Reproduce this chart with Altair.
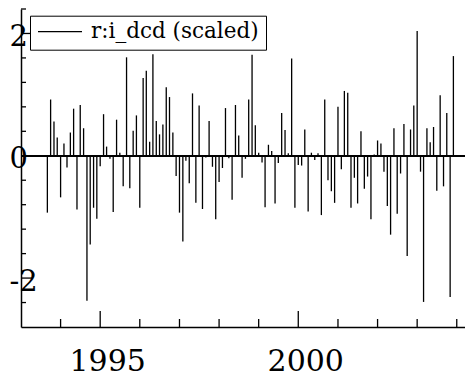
import altair as alt
import pandas as pd

# ---- data ----
start_month = "1993-09-01"
values = [
    -0.93, 0.92, 0.56, 0.30, -0.68, 0.20, -0.19, 0.38, 0.77, -0.88, 0.83, 0.45,
    -2.37, -1.45, -0.85, -1.03, -0.17, 0.68, 0.15, -0.05, -0.92, 0.59, 0.05, -0.50,
    1.61, -0.53, 0.41, 0.66, -0.85, 1.27, 1.39, 0.23, 1.66, 0.57, 0.35, 0.51,
    1.12, 0.96, 0.38, -0.33, -0.93, -1.40, -0.08, -0.45, 1.02, -0.77, 0.82, -0.87,
    -0.03, 0.57, -0.18, -1.04, -0.43, -0.20, 0.78, -0.04, -0.72, 0.83, 0.33, -0.36,
    -0.05, 0.92, 1.65, 0.50, 0.05, -0.11, -0.84, 0.18, 0.08, -0.78, -0.12, 0.70,
    0.42, 0.04, 1.59, -0.85, -0.15, -0.16, 0.43, -0.91, 0.05, -0.07, 0.04, -0.97,
    0.92, -0.40, -0.58, -0.77, 0.80, -0.22, 1.06, 1.03, -0.85, -0.36, -0.78, 0.40,
    -0.54, -0.34, -1.04, 0.02, 0.25, 0.20, -0.26, -0.82, -1.29, 0.45, -0.95, -0.29,
    0.52, -1.64, 0.43, 0.82, 2.04, -0.26, -2.39, 0.45, 0.22, 0.47, -0.57, 0.99,
    -0.50, 0.70, -2.31, 1.63,
]
series_name = "r:i_dcd (scaled)"
year_ticks = [1994, 1995, 1996, 1997, 1998, 1999, 2000, 2001, 2002, 2003, 2004]
major_years = [1995, 2000]
y_minor_ticks = [2.4, 1.6, 1.2, 0.8, 0.4, -0.4, -0.8, -1.2, -1.6, -2.4]
y_major_ticks = [2, -2]
y_label_values = [-2, 0, 2]
y_domain = [-2.8, 2.4]

dates = pd.date_range(start_month, periods=len(values), freq="MS")
df = pd.DataFrame({"date": dates, "value": values, "series": series_name})

xt = pd.DataFrame({
    "date": [pd.Timestamp(f"{y}-01-01") for y in year_ticks],
    "major": [y in major_years for y in year_ticks],
})
xt_minor = xt[~xt["major"]]
xt_major = xt[xt["major"]]
yt_minor = pd.DataFrame({"v": y_minor_ticks})
yt_major = pd.DataFrame({"v": y_major_ticks})

W, H = 444, 318
FONT = "DejaVu Serif"

xscale = alt.Scale(domain=[alt.DateTime(year=1993, month=1, date=1),
                           alt.DateTime(year=2004, month=3, date=17)])
yscale = alt.Scale(domain=y_domain, nice=False, zero=False)

ax_x = alt.Axis(
    values=[alt.DateTime(year=y, month=1, date=1) for y in major_years],
    format="%Y", title=None, grid=False, ticks=False, tickSize=0,
    labelFont=FONT, labelFontSize=30, labelColor="black",
    labelPadding=43, labelBaseline="alphabetic", labelOffset=7, labelFlush=False,
    domainColor="black", domainWidth=1.5,
)
ax_y = alt.Axis(
    values=y_label_values, labelExpr="'' + datum.value", title=None,
    grid=False, ticks=False, tickSize=0,
    labelFont=FONT, labelFontSize=29, labelColor="black",
    labelAlign="left", labelPadding=12, labelBaseline="alphabetic", labelOffset=12,
    labelFlush=False,
    domainColor="black", domainWidth=1.5,
)

zero_line = alt.Chart(df).mark_rule(color="black", strokeWidth=1.4).encode(
    y=alt.YDatum(0, scale=yscale, axis=ax_y),
)

spikes = alt.Chart(df).mark_rule(strokeWidth=1.3).encode(
    x=alt.X("date:T", scale=xscale, axis=ax_x),
    y=alt.Y("value:Q", scale=yscale, axis=ax_y),
    y2=alt.datum(0),
    color=alt.Color(
        "series:N",
        scale=alt.Scale(range=["black"]),
        legend=alt.Legend(
            title=None, orient="none", legendX=9, legendY=6.7,
            strokeColor="black", fillColor="white", padding=7,
            symbolType="stroke", symbolSize=1936, symbolStrokeWidth=1.3,
            symbolStrokeColor="black", clipHeight=18,
            labelFont=FONT, labelFontSize=21.5, labelColor="black", labelOffset=8,
            labelLimit=0,
        ),
    ),
)

xt_min_layer = alt.Chart(xt_minor).mark_rule(color="black", strokeWidth=1.3).encode(
    x=alt.X("date:T", scale=xscale, axis=ax_x),
    y=alt.value(H), y2=alt.value(H - 8),
)
xt_maj_layer = alt.Chart(xt_major).mark_rule(color="black", strokeWidth=1.3).encode(
    x=alt.X("date:T", scale=xscale, axis=ax_x),
    y=alt.value(H), y2=alt.value(H - 16),
)
yt_min_layer = alt.Chart(yt_minor).mark_rule(color="black", strokeWidth=1.3).encode(
    y=alt.Y("v:Q", scale=yscale, axis=ax_y),
    x=alt.value(0), x2=alt.value(5),
)
yt_maj_layer = alt.Chart(yt_major).mark_rule(color="black", strokeWidth=1.3).encode(
    y=alt.Y("v:Q", scale=yscale, axis=ax_y),
    x=alt.value(0), x2=alt.value(11),
)

chart = alt.layer(
    zero_line, spikes, xt_min_layer, xt_maj_layer, yt_min_layer, yt_maj_layer
).properties(
    width=W, height=H,
    padding={"left": 21, "top": 9, "right": 0, "bottom": 53},
    autosize=alt.AutoSizeParams(type="none"),
    background="white",
).configure_view(stroke=None)

chart.save("out.html", embed_options={"renderer": "svg", "actions": False})
